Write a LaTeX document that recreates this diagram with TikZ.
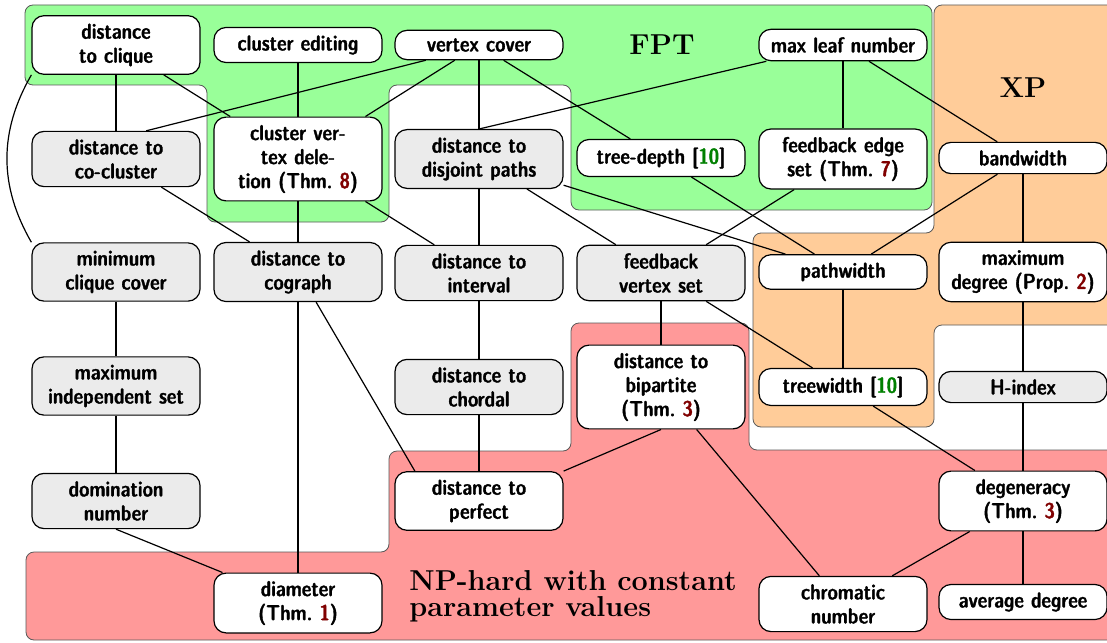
\documentclass[tikz,border=0pt]{standalone}
\usepackage{fontspec}
\newfontfamily\nodefont[Scale=1.08,FakeBold=1.6]{lmsansdemicond10-regular.otf}

\definecolor{fptgreen}{RGB}{153,255,153}
\definecolor{xporange}{RGB}{255,204,153}
\definecolor{nphred}{RGB}{255,153,153}
\definecolor{opengray}{RGB}{235,235,235}
\definecolor{thmred}{RGB}{128,0,0}
\definecolor{citegreen}{RGB}{0,128,0}
\newcommand{\thmno}[1]{\textcolor{thmred}{#1}}
\newcommand{\citeno}[1]{[\textcolor{citegreen}{#1}]}

\pgfdeclarelayer{regions}
\pgfdeclarelayer{edges}
\pgfsetlayers{regions,edges,main}

\begin{document}
\begin{tikzpicture}[x=0.5pt,y=-0.5pt,
    param/.style={draw,semithick,rounded corners=6pt,fill=white,font=\nodefont\bfseries,
      align=center,text width=78pt,inner xsep=3pt,inner ysep=4pt},
    openparam/.style={param,fill=opengray},
    region/.style={draw=black!65,rounded corners=4pt},
    class/.style={font=\Large\bfseries}]
  \useasboundingbox (0,0) rectangle (1107,642);

  % first row
  \node[param] (clique) at (116,45) {distance\\to clique};
  \node[param] (clusteredit) at (298,45) {cluster editing};
  \node[param] (vc) at (479,45) {vertex cover};
  \node[param] (maxleaf) at (843,45) {max leaf number};
  % second row
  \node[openparam] (cocluster) at (116,159) {distance to\\co-cluster};
  \node[param] (cvd) at (298,159) {cluster ver-\\tex dele-\\tion (Thm.~\thmno{8})};
  \node[openparam] (disjpaths) at (479,159) {distance to\\disjoint paths};
  \node[param] (treedepth) at (661,158) {tree-depth \citeno{10}};
  \node[param] (fes) at (843,159) {feedback edge\\set (Thm.~\thmno{7})};
  \node[param] (bandwidth) at (1023,158) {bandwidth};
  % third row
  \node[openparam] (mcc) at (116,272) {minimum\\clique cover};
  \node[openparam] (cograph) at (298,272) {distance to\\cograph};
  \node[openparam] (interval) at (479,273) {distance to\\interval};
  \node[openparam] (fvs) at (661,273) {feedback\\vertex set};
  \node[param] (pathwidth) at (843,272) {pathwidth};
  \node[param] (maxdeg) at (1023,272) {maximum\\degree (Prop.~\thmno{2})};
  % fourth row
  \node[openparam] (mis) at (116,386) {maximum\\independent set};
  \node[openparam] (chordal) at (479,387) {distance to\\chordal};
  \node[param] (bipartite) at (661,387) {distance to\\bipartite\\(Thm.~\thmno{3})};
  \node[param] (treewidth) at (843,387) {treewidth \citeno{10}};
  \node[openparam] (hindex) at (1023,387) {H-index};
  % fifth row
  \node[openparam] (dom) at (116,501) {domination\\number};
  \node[param] (perfect) at (479,501) {distance to\\perfect};
  \node[param] (degeneracy) at (1023,501) {degeneracy\\(Thm.~\thmno{3})};
  % last row
  \node[param] (diameter) at (298,603) {diameter\\(Thm.~\thmno{1})};
  \node[param] (chromatic) at (843,604) {chromatic\\number};
  \node[param] (avgdeg) at (1023,602) {average degree};

  \node[class] (fpt) at (662,45) {FPT};
  \node[class] (xp) at (1023,88) {XP};
  \node[class,anchor=north west,align=left,inner sep=0pt] (nphard) at (409,570)
    {NP-hard with constant\\[-5pt]parameter values};

  \begin{pgfonlayer}{edges}
    \foreach \a/\b in {clique/cocluster,clique/cvd,clusteredit/cvd,vc/cvd,
        vc/disjpaths,vc/treedepth,maxleaf/fes,maxleaf/bandwidth,
        cocluster/cograph,cvd/cograph,cvd/interval,disjpaths/interval,
        disjpaths/fvs,disjpaths/pathwidth,treedepth/pathwidth,fes/fvs,
        bandwidth/pathwidth,bandwidth/maxdeg,mcc/mis,mis/dom,
        cograph/diameter,interval/chordal,chordal/perfect,fvs/bipartite,
        fvs/treewidth,pathwidth/treewidth,maxdeg/hindex,bipartite/chromatic,
        treewidth/degeneracy,hindex/degeneracy,degeneracy/chromatic,
        degeneracy/avgdeg}
      \draw[semithick] (\a) -- (\b);
    \draw[semithick] (vc.196) -- (cocluster.43);
    \draw[semithick] (maxleaf.192) -- (disjpaths.north);
    \draw[semithick] (dom.south) -- (diameter.158);
    \draw[semithick] (cograph.-59) -- (perfect.155);
    \draw[semithick] (bipartite.south) -- (perfect.north east);
    \draw[semithick] (clique.south west) to[bend right=30] (mcc.north west);
  \end{pgfonlayer}

  \begin{pgfonlayer}{regions}
    \draw[region,fill=fptgreen] (25,5) -- (932,5) -- (932,210) -- (571,210)
      -- (571,85) -- (389,85) -- (389,222) -- (207,222) -- (207,85)
      -- (25,85) -- cycle;
    \draw[region,fill=xporange] (753,233) -- (934,233) -- (934,5) -- (1120,5)
      -- (1120,325) -- (934,325) -- (934,427) -- (753,427) -- cycle;
    \draw[region,fill=nphred] (26,552) -- (389,552) -- (389,451) -- (571,451)
      -- (571,323) -- (749,323) -- (749,450) -- (1120,450) -- (1120,640)
      -- (26,640) -- cycle;
  \end{pgfonlayer}
\end{tikzpicture}
\end{document}
